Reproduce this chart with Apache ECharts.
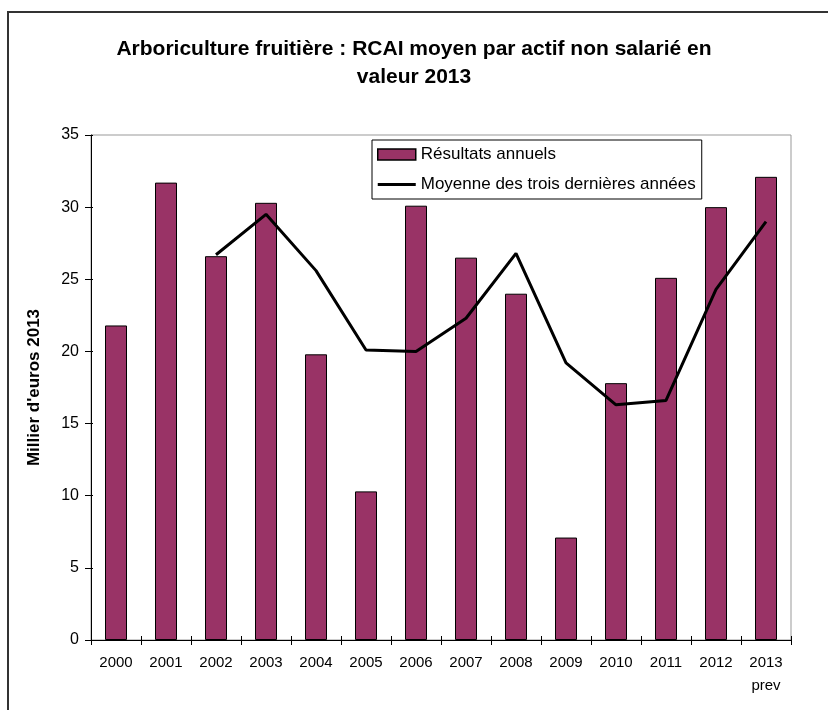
<!DOCTYPE html>
<html>
<head>
<meta charset="utf-8">
<script src="https://cdn.jsdelivr.net/npm/echarts@6/dist/echarts.min.js"></script>
<style>
  html, body { margin: 0; padding: 0; background: #fff; }
  #chart { width: 828px; height: 710px; }
</style>
</head>
<body>
<div id="chart"></div>
<script>
// Années (2013 = prévision)
const years = ['2000', '2001', '2002', '2003', '2004', '2005', '2006',
               '2007', '2008', '2009', '2010', '2011', '2012', '2013\nprev'];

// RCAI annuel par actif non salarié, milliers d'euros 2013
const annualResults = [21.8, 31.7, 26.6, 30.3, 19.8, 10.3, 30.1,
                       26.5, 24.0, 7.1, 17.8, 25.1, 30.0, 32.1];

// Moyenne des trois dernières années (à partir de 2002)
const threeYearMean = ['-', '-', 26.7, 29.5, 25.6, 20.1, 20.0,
                       22.3, 26.8, 19.2, 16.3, 16.6, 24.3, 29.0];

const yTicks = { min: 0, max: 35, interval: 5 };

const FONT = '"Liberation Sans", Arial, sans-serif';

// Thin horizontal bar, padded top and bottom so it sits mid-height in the legend slot
const LINE_ICON = 'path://M0,0L0.05,0L0.05,0.05Z M0,4L38,4L38,7L0,7Z M0,11L0.05,11L0.05,10.95Z';

const chart = echarts.init(document.getElementById('chart'), null, { renderer: 'canvas' });

chart.setOption({
  backgroundColor: '#fff',
  animation: false,
  textStyle: { fontFamily: FONT, color: '#000' },
  title: {
    text: 'Arboriculture fruitière : RCAI moyen par actif non salarié en\nvaleur 2013',
    left: 'center',
    top: 30,
    textStyle: { fontFamily: FONT, fontSize: 21, fontWeight: 'bold', color: '#000', lineHeight: 28 }
  },
  graphic: [{
    type: 'rect',
    shape: { x: 8, y: 12, width: 900, height: 800 },
    style: { fill: 'none', stroke: '#333', lineWidth: 2 },
    silent: true,
    z: 100
  }],
  legend: {
    orient: 'vertical',
    left: 372,
    top: 140,
    borderColor: '#000',
    borderWidth: 1,
    backgroundColor: '#fff',
    padding: [6, 6, 6, 5],
    itemWidth: 38,
    itemHeight: 11,
    itemGap: 13,
    textStyle: { fontFamily: FONT, fontSize: 17, color: '#000' },
    data: [
      { name: 'Résultats annuels', icon: 'rect',
        itemStyle: { borderColor: '#000', borderWidth: 1.5 } },
      { name: 'Moyenne des trois dernières années', icon: LINE_ICON,
        itemStyle: { color: '#000', borderWidth: 0 } }
    ]
  },
  grid: {
    left: 91, right: 37, top: 135, bottom: 70,
    show: true, borderColor: '#999', borderWidth: 1, backgroundColor: 'transparent'
  },
  xAxis: [{
    type: 'category',
    data: years,
    position: 'bottom',
    boundaryGap: true,
    axisLine: { lineStyle: { color: '#000', width: 1 } },
    axisTick: { show: true, length: 5, lineStyle: { color: '#000' } },
    axisLabel: { fontFamily: FONT, fontSize: 15, color: '#000', margin: 11, lineHeight: 23 }
  }, {
    type: 'category',
    data: years,
    position: 'bottom',
    boundaryGap: true,
    axisLine: { show: false },
    axisTick: { show: true, inside: true, length: 4, lineStyle: { color: '#000' } },
    axisLabel: { show: false }
  }],
  yAxis: [{
    type: 'value',
    min: yTicks.min, max: yTicks.max, interval: yTicks.interval,
    position: 'left',
    name: "Millier d'euros 2013",
    nameLocation: 'middle',
    nameGap: 48,
    nameTextStyle: { fontFamily: FONT, fontSize: 17, fontWeight: 'bold', color: '#000' },
    axisLine: { show: true, lineStyle: { color: '#000', width: 1 } },
    axisTick: { show: true, length: 6, lineStyle: { color: '#000' } },
    axisLabel: { fontFamily: FONT, fontSize: 16, color: '#000', margin: 12 },
    splitLine: { show: false }
  }, {
    type: 'value',
    min: yTicks.min, max: yTicks.max, interval: yTicks.interval,
    position: 'left',
    axisLine: { show: false },
    axisTick: { show: true, inside: true, length: 2, lineStyle: { color: '#000' } },
    axisLabel: { show: false },
    splitLine: { show: false }
  }],
  series: [{
    name: 'Résultats annuels',
    type: 'bar',
    data: annualResults,
    xAxisIndex: 0,
    yAxisIndex: 0,
    barWidth: 22,
    itemStyle: { color: '#993366', borderColor: '#000', borderWidth: 1 }
  }, {
    name: 'Moyenne des trois dernières années',
    type: 'line',
    data: threeYearMean,
    xAxisIndex: 0,
    yAxisIndex: 0,
    symbol: 'none',
    showSymbol: false,
    lineStyle: { color: '#000', width: 3 },
    itemStyle: { color: '#000' },
    z: 3
  }]
});
</script>
</body>
</html>
